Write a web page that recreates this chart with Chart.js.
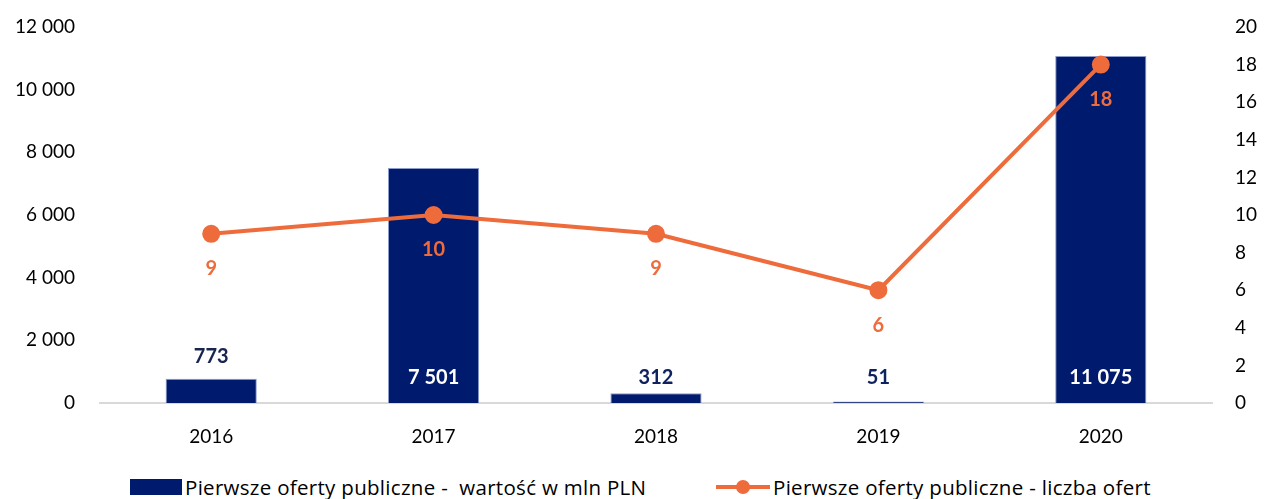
<!DOCTYPE html>
<html>
<head>
<meta charset="utf-8">
<script src="https://cdn.jsdelivr.net/npm/chart.js@4/dist/chart.umd.min.js"></script>
<style>
  html, body { margin: 0; padding: 0; background: #fff; }
  #wrap { position: relative; width: 1265px; height: 499px; }
  #chartBox { position: absolute; left: 0; top: 0; width: 1265px; height: 462px; }
  #legend { position: absolute; left: 0; top: 474px; width: 1265px; height: 26px;
    font-family: "Open Sans", Lato, sans-serif; font-size: 20.5px; letter-spacing: 0.3px; color: #000; }
  .item { position: absolute; top: 0; display: flex; align-items: center; height: 26px; white-space: pre; }
  .box { width: 52px; height: 16px; background: #001A6E; margin-right: 3px; }
  .lineSw { position: relative; width: 54px; height: 16px; margin-right: 3px; }
  .lineSw .ln { position: absolute; left: 0; top: 6px; width: 54px; height: 4px; background: #EE6B3B; }
  .lineSw .dot { position: absolute; left: 20px; top: 1px; width: 14px; height: 14px; border-radius: 7px; background: #EE6B3B; }
</style>
</head>
<body>
<div id="wrap">
  <div id="chartBox"><canvas id="cmix"></canvas></div>
  <div id="legend">
    <div class="item" style="left:130px"><div class="box"></div><span>Pierwsze oferty publiczne -  wartość w mln PLN</span></div>
    <div class="item" style="left:716px"><div class="lineSw"><div class="ln"></div><div class="dot"></div></div><span>Pierwsze oferty publiczne - liczba ofert</span></div>
  </div>
</div>
<script>
var years       = ["2016", "2017", "2018", "2019", "2020"];
var valueMln    = [773, 7501, 312, 51, 11075];
var offerCount  = [9, 10, 9, 6, 18];
var seriesNames = ["Pierwsze oferty publiczne -  wartość w mln PLN", "Pierwsze oferty publiczne - liczba ofert"];

var navy   = "#001A6E";
var orange = "#EE6B3B";
var fontFam = "Lato, 'Open Sans', sans-serif";

function spaced(n){
	return String(n).replace(/\B(?=(\d{3})+(?!\d))/g, " ");
}

// value labels drawn by hand (no datalabels plugin offline)
var valueLabels = {
	id: "valueLabels",
	afterDatasetsDraw: function(chart){
		var ctx = chart.ctx;
		ctx.save();
		ctx.font = "bold 20px " + fontFam;
		ctx.textAlign = "center";
		ctx.textBaseline = "middle";
		var barMeta = chart.getDatasetMeta(0);
		barMeta.data.forEach(function(bar, i){
			var h = bar.base - bar.y;
			if (h > 45) {
				ctx.fillStyle = "#fff";
				ctx.fillText(spaced(valueMln[i]), bar.x, bar.base - 25);
			} else if (h > 20) {
				ctx.fillStyle = "#17254F";
				ctx.fillText(spaced(valueMln[i]), bar.x, bar.y - 22);
			} else {
				ctx.fillStyle = "#0E2260";
				ctx.fillText(spaced(valueMln[i]), bar.x, bar.base - 25);
			}
		});
		var lineMeta = chart.getDatasetMeta(1);
		ctx.fillStyle = orange;
		lineMeta.data.forEach(function(pt, i){
			ctx.fillText(spaced(offerCount[i]), pt.x, pt.y + 35);
		});
		ctx.restore();
	}
};

var cmix = document.getElementById("cmix").getContext("2d");
var mixChart = new Chart(cmix, {
	data: {
		labels: years,
		datasets: [
			{
				type: "bar",
				label: seriesNames[0],
				data: valueMln,
				backgroundColor: navy,
				borderColor: "rgba(110,130,190,0.8)",
				borderWidth: 1,
				barPercentage: 0.82,
				categoryPercentage: 0.5,
				yAxisID: "y",
				order: 2
			},
			{
				type: "line",
				label: seriesNames[1],
				data: offerCount,
				borderColor: orange,
				backgroundColor: orange,
				borderWidth: 4,
				pointRadius: 7,
				pointHoverRadius: 7,
				tension: 0,
				yAxisID: "y1",
				order: 1
			}
		]
	},
	options: {
		responsive: true,
		maintainAspectRatio: false,
		animation: false,
		layout: { padding: { top: 27, bottom: 0, left: 0, right: 0 } },
		plugins: {
			legend: { display: false },
			tooltip: { enabled: false }
		},
		scales: {
			x: {
				grid: { display: false, drawTicks: false },
				border: { display: true, color: "#D9D9D9", width: 2 },
				ticks: { color: "#000", font: { family: fontFam, size: 19 }, padding: 22 },
				afterFit: function(s){ s.height = 59; }
			},
			y: {
				position: "left",
				min: 0, max: 12000,
				grid: { display: false, drawTicks: true, tickLength: 25, tickColor: "rgba(0,0,0,0)" },
				border: { display: false },
				ticks: { stepSize: 2000, color: "#000", font: { family: fontFam, size: 19 }, padding: 0,
					callback: function(v){ return spaced(v); } },
				afterFit: function(s){ s.width = 100; }
			},
			y1: {
				position: "right",
				min: 0, max: 20,
				grid: { display: false, drawTicks: true, tickLength: 23, tickColor: "rgba(0,0,0,0)" },
				border: { display: false },
				ticks: { stepSize: 2, color: "#000", font: { family: fontFam, size: 19 }, padding: 0 },
				afterFit: function(s){ s.width = 53; }
			}
		}
	},
	plugins: [valueLabels]
});
</script>
</body>
</html>
